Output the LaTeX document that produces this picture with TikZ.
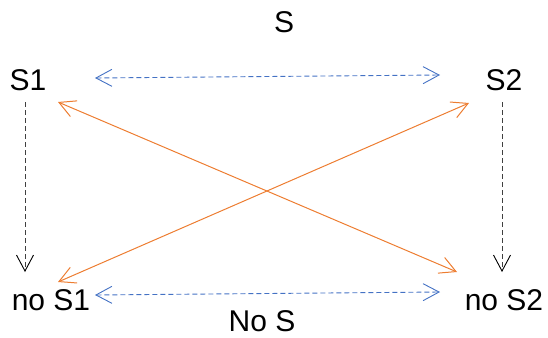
\documentclass[tikz,border=0pt]{standalone}
\usepackage{fontspec}
\setmainfont{Liberation Sans}
\usetikzlibrary{arrows.meta}
\definecolor{lnblue}{HTML}{4472C4}
\definecolor{lnorange}{HTML}{ED7D31}
\definecolor{lngray}{HTML}{404040}
\tikzset{
  lbl/.style={inner sep=0pt, anchor=base, font=\fontsize{30}{34}\selectfont},
  bluearrow/.style={draw=lnblue, line width=0.9pt, dash pattern=on 5pt off 3pt, {Straight Barb[length=16pt,width=17pt,line width=0.9pt]}-{Straight Barb[length=16pt,width=17pt,line width=0.9pt]}},
  orangearrow/.style={draw=lnorange, line width=1pt, {Straight Barb[length=16pt,width=17pt,line width=1pt]}-{Straight Barb[length=16pt,width=17pt,line width=1pt]}},
  grayarrow/.style={draw=lngray, line width=0.9pt, dash pattern=on 5pt off 3pt, -{Straight Barb[length=16pt,width=17pt,line width=0.9pt,color=black]}}
}
\begin{document}
\begin{tikzpicture}[x=1pt,y=-1pt]
\useasboundingbox (0,0) rectangle (548,337);
\node[lbl] (s)   at (284,33)  {S};
\node[lbl] (s1)  at (28,90)   {S1};
\node[lbl] (s2)  at (504,90)  {S2};
\node[lbl] (n1)  at (51,310)  {no S1};
\node[lbl] (n2)  at (504,310) {no S2};
\node[lbl] (ns)  at (262,331) {No S};
% blue
\draw[bluearrow] ([xshift=67pt,yshift=12pt]s1.base) -- ([xshift=-64pt,yshift=15pt]s2.base);
\draw[bluearrow] ([xshift=44pt,yshift=15pt]n1.base) -- ([xshift=-64pt,yshift=18pt]n2.base);
% gray vertical
\draw[grayarrow] ([xshift=-3pt,yshift=-12pt]s1.base) -- ([xshift=-26pt,yshift=38pt]n1.base);
\draw[grayarrow] ([xshift=-2pt,yshift=-12pt]s2.base) -- ([xshift=-2pt,yshift=38pt]n2.base);
% orange
\draw[orangearrow] ([xshift=30pt,yshift=-12pt]s1.base) -- ([xshift=-47pt,yshift=38pt]n2.base);
\draw[orangearrow] ([xshift=-35pt,yshift=-13pt]s2.base) -- ([xshift=7pt,yshift=28pt]n1.base);
\end{tikzpicture}
\end{document}
